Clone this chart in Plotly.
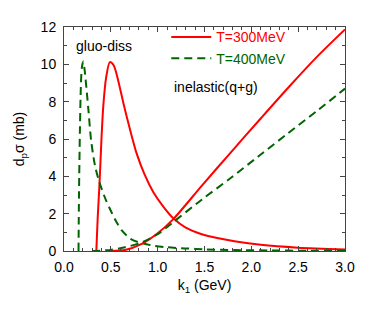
import plotly.graph_objects as go

# T=300MeV gluo-dissociation
k_gd300 = [0.345, 0.36, 0.38, 0.40, 0.42, 0.45, 0.49, 0.53, 0.58, 0.635, 0.70, 0.777, 0.86, 0.954, 1.05, 1.167, 1.30, 1.47, 1.65, 1.82, 2.10, 2.50, 3.00]
s_gd300 = [0.0, 1.8, 3.7, 6.0, 7.8, 9.3, 10.12, 9.95, 9.1, 7.9, 6.6, 5.2, 4.1, 3.15, 2.45, 1.75, 1.25, 0.90, 0.68, 0.52, 0.33, 0.18, 0.08]

# T=400MeV gluo-dissociation
k_gd400 = [0.155, 0.16, 0.17, 0.18, 0.19, 0.205, 0.22, 0.24, 0.26, 0.29, 0.33, 0.37, 0.404, 0.45, 0.51, 0.56, 0.617, 0.72, 0.81, 0.94, 1.10, 1.29, 1.50, 1.82, 2.20, 2.60, 3.00]
s_gd400 = [0.0, 3.0, 6.5, 8.8, 9.8, 10.15, 9.7, 8.7, 7.6, 5.9, 4.6, 3.8, 3.3, 2.7, 2.05, 1.55, 1.1, 0.62, 0.45, 0.30, 0.20, 0.14, 0.09, 0.05, 0.03, 0.015, 0.01]

# T=300MeV inelastic(q+g)
k_in300 = [0.50, 0.65, 0.83, 1.00, 1.167, 1.47, 1.77, 2.10, 2.41, 2.70, 3.00]
s_in300 = [0.0, 0.05, 0.38, 0.95, 1.71, 3.49, 5.22, 7.10, 8.84, 10.4, 11.87]

# T=400MeV inelastic(q+g)
k_in400 = [0.30, 0.50, 0.65, 0.81, 1.00, 1.167, 1.47, 1.79, 2.07, 2.39, 2.70, 3.00]
s_in400 = [0.0, 0.06, 0.20, 0.42, 0.90, 1.55, 2.75, 3.95, 5.05, 6.30, 7.50, 8.70]

RED = "#ff0000"
GREEN = "#006400"
FONT = "Liberation Sans"

fig = go.Figure()
fig.add_trace(go.Scatter(x=k_gd300, y=s_gd300, mode="lines",
                         line=dict(color=RED, width=2, shape="spline", smoothing=0.8),
                         name="<span style='color:#ff0000'>T=300MeV</span>", showlegend=True))
fig.add_trace(go.Scatter(x=k_gd400, y=s_gd400, mode="lines",
                         line=dict(color=GREEN, width=2, dash="8px,5px", shape="spline", smoothing=0.8),
                         name="<span style='color:#006400'>T=400MeV</span>", showlegend=True))
fig.add_trace(go.Scatter(x=k_in300, y=s_in300, mode="lines",
                         line=dict(color=RED, width=2, shape="spline", smoothing=0.8), showlegend=False))
fig.add_trace(go.Scatter(x=k_in400, y=s_in400, mode="lines",
                         line=dict(color=GREEN, width=2, dash="8px,5px", shape="spline", smoothing=0.8),
                         showlegend=False))

axis_common = dict(showline=True, linecolor="#444", linewidth=1, mirror="ticks", ticks="inside",
                   ticklen=5, tickcolor="#444", showgrid=False, zeroline=False,
                   tickfont=dict(size=14, color="black", family=FONT))

fig.update_xaxes(range=[0, 3], dtick=0.5, tick0=0, tickformat=".1f", ticklabelstandoff=3,
                 minor=dict(dtick=0.1, ticks="inside", ticklen=3, tickcolor="#444"),
                 title=dict(text="k<sub>1</sub> (GeV)", font=dict(size=14, family=FONT, color="black"), standoff=6),
                 **axis_common)
fig.update_yaxes(range=[0, 12], dtick=2, tick0=0, ticklabelstandoff=4,
                 minor=dict(dtick=1, ticks="inside", ticklen=3, tickcolor="#444"),
                 title=dict(text="d<sub>p</sub>σ (mb)", font=dict(size=14, family=FONT, color="black"), standoff=12),
                 **axis_common)

fig.add_annotation(text="gluo-diss", x=0.11, y=11.0, xref="x", yref="y", xanchor="left", yanchor="middle",
                   showarrow=False, font=dict(size=14, family=FONT, color="black"))
fig.add_annotation(text="inelastic(q+g)", x=1.15, y=8.8, xref="x", yref="y", xanchor="left", yanchor="middle",
                   showarrow=False, font=dict(size=14, family=FONT, color="black"))

# page body has an 8px default margin, so the figure is shrunk by that amount
fig.update_layout(
    width=366, height=312,
    margin=dict(l=54, r=29, t=11, b=69),
    paper_bgcolor="white", plot_bgcolor="white",
    font=dict(family=FONT, size=14, color="black"),
    legend=dict(x=0.364, y=1.025, xanchor="left", yanchor="top", bgcolor="rgba(0,0,0,0)",
                font=dict(size=14, family=FONT), tracegroupgap=0, itemwidth=40,
                traceorder="normal"),
)

fig.write_html("out.html")
